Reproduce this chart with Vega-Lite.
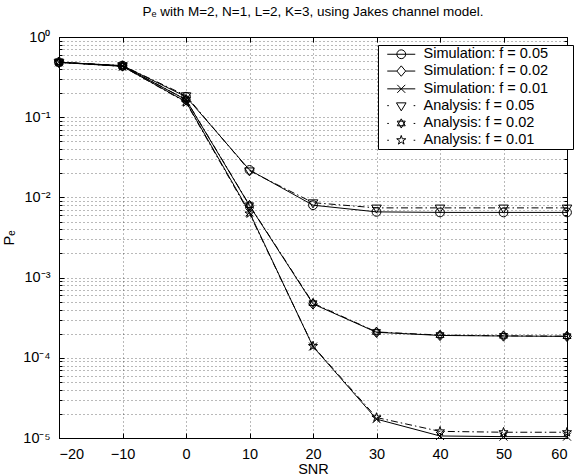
{
  "$schema": "https://vega.github.io/schema/vega-lite/v6.json",
  "width": 508,
  "height": 401,
  "autosize": {"type": "none"},
  "padding": {"left": 59, "top": 37, "right": 8, "bottom": 38},
  "background": "white",
  "title": {"text": "Pₑ with M=2, N=1, L=2, K=3, using Jakes channel model.", "font": "Liberation Sans", "fontSize": 13.5, "fontWeight": "normal", "color": "black", "offset": 11},
  "config": {
    "view": {"stroke": "black", "strokeWidth": 1},
    "font": "Liberation Sans"
  },
  "resolve": {"axis": {"x": "independent", "y": "independent"}, "scale": {"shape": "independent"}},
  "data": {"values": [
    {"snr": -20, "pe": 0.484, "method": "Simulation", "series": "Simulation: f = 0.05"},
    {"snr": -10, "pe": 0.44, "method": "Simulation", "series": "Simulation: f = 0.05"},
    {"snr": 0, "pe": 0.18, "method": "Simulation", "series": "Simulation: f = 0.05"},
    {"snr": 10, "pe": 0.022, "method": "Simulation", "series": "Simulation: f = 0.05"},
    {"snr": 20, "pe": 0.008, "method": "Simulation", "series": "Simulation: f = 0.05"},
    {"snr": 30, "pe": 0.0066, "method": "Simulation", "series": "Simulation: f = 0.05"},
    {"snr": 40, "pe": 0.0065, "method": "Simulation", "series": "Simulation: f = 0.05"},
    {"snr": 50, "pe": 0.0065, "method": "Simulation", "series": "Simulation: f = 0.05"},
    {"snr": 60, "pe": 0.0065, "method": "Simulation", "series": "Simulation: f = 0.05"},
    {"snr": -20, "pe": 0.484, "method": "Simulation", "series": "Simulation: f = 0.02"},
    {"snr": -10, "pe": 0.435, "method": "Simulation", "series": "Simulation: f = 0.02"},
    {"snr": 0, "pe": 0.165, "method": "Simulation", "series": "Simulation: f = 0.02"},
    {"snr": 10, "pe": 0.0079, "method": "Simulation", "series": "Simulation: f = 0.02"},
    {"snr": 20, "pe": 0.00047, "method": "Simulation", "series": "Simulation: f = 0.02"},
    {"snr": 30, "pe": 0.000208, "method": "Simulation", "series": "Simulation: f = 0.02"},
    {"snr": 40, "pe": 0.00019, "method": "Simulation", "series": "Simulation: f = 0.02"},
    {"snr": 50, "pe": 0.000187, "method": "Simulation", "series": "Simulation: f = 0.02"},
    {"snr": 60, "pe": 0.000185, "method": "Simulation", "series": "Simulation: f = 0.02"},
    {"snr": -20, "pe": 0.484, "method": "Simulation", "series": "Simulation: f = 0.01"},
    {"snr": -10, "pe": 0.43, "method": "Simulation", "series": "Simulation: f = 0.01"},
    {"snr": 0, "pe": 0.156, "method": "Simulation", "series": "Simulation: f = 0.01"},
    {"snr": 10, "pe": 0.0065, "method": "Simulation", "series": "Simulation: f = 0.01"},
    {"snr": 20, "pe": 0.000138, "method": "Simulation", "series": "Simulation: f = 0.01"},
    {"snr": 30, "pe": 0.0000172, "method": "Simulation", "series": "Simulation: f = 0.01"},
    {"snr": 40, "pe": 0.0000106, "method": "Simulation", "series": "Simulation: f = 0.01"},
    {"snr": 50, "pe": 0.0000104, "method": "Simulation", "series": "Simulation: f = 0.01"},
    {"snr": 60, "pe": 0.0000104, "method": "Simulation", "series": "Simulation: f = 0.01"},
    {"snr": -20, "pe": 0.484, "method": "Analysis", "series": "Analysis: f = 0.05"},
    {"snr": -10, "pe": 0.44, "method": "Analysis", "series": "Analysis: f = 0.05"},
    {"snr": 0, "pe": 0.186, "method": "Analysis", "series": "Analysis: f = 0.05"},
    {"snr": 10, "pe": 0.0215, "method": "Analysis", "series": "Analysis: f = 0.05"},
    {"snr": 20, "pe": 0.0086, "method": "Analysis", "series": "Analysis: f = 0.05"},
    {"snr": 30, "pe": 0.0074, "method": "Analysis", "series": "Analysis: f = 0.05"},
    {"snr": 40, "pe": 0.0074, "method": "Analysis", "series": "Analysis: f = 0.05"},
    {"snr": 50, "pe": 0.0074, "method": "Analysis", "series": "Analysis: f = 0.05"},
    {"snr": 60, "pe": 0.0074, "method": "Analysis", "series": "Analysis: f = 0.05"},
    {"snr": -20, "pe": 0.484, "method": "Analysis", "series": "Analysis: f = 0.02"},
    {"snr": -10, "pe": 0.435, "method": "Analysis", "series": "Analysis: f = 0.02"},
    {"snr": 0, "pe": 0.166, "method": "Analysis", "series": "Analysis: f = 0.02"},
    {"snr": 10, "pe": 0.008, "method": "Analysis", "series": "Analysis: f = 0.02"},
    {"snr": 20, "pe": 0.00048, "method": "Analysis", "series": "Analysis: f = 0.02"},
    {"snr": 30, "pe": 0.00021, "method": "Analysis", "series": "Analysis: f = 0.02"},
    {"snr": 40, "pe": 0.000192, "method": "Analysis", "series": "Analysis: f = 0.02"},
    {"snr": 50, "pe": 0.000188, "method": "Analysis", "series": "Analysis: f = 0.02"},
    {"snr": 60, "pe": 0.000186, "method": "Analysis", "series": "Analysis: f = 0.02"},
    {"snr": -20, "pe": 0.484, "method": "Analysis", "series": "Analysis: f = 0.01"},
    {"snr": -10, "pe": 0.43, "method": "Analysis", "series": "Analysis: f = 0.01"},
    {"snr": 0, "pe": 0.153, "method": "Analysis", "series": "Analysis: f = 0.01"},
    {"snr": 10, "pe": 0.0063, "method": "Analysis", "series": "Analysis: f = 0.01"},
    {"snr": 20, "pe": 0.00014, "method": "Analysis", "series": "Analysis: f = 0.01"},
    {"snr": 30, "pe": 0.000018, "method": "Analysis", "series": "Analysis: f = 0.01"},
    {"snr": 40, "pe": 0.0000121, "method": "Analysis", "series": "Analysis: f = 0.01"},
    {"snr": 50, "pe": 0.0000118, "method": "Analysis", "series": "Analysis: f = 0.01"},
    {"snr": 60, "pe": 0.0000118, "method": "Analysis", "series": "Analysis: f = 0.01"}
  ]},
  "encoding": {
    "x": {"field": "snr", "type": "quantitative",
      "scale": {"domain": [-20, 60], "nice": false, "zero": false},
      "axis": {"values": [-20, -10, 0, 10, 20, 30, 40, 50, 60], "title": "SNR",
        "grid": true, "gridDash": [1, 3], "gridColor": "#000", "gridOpacity": 0.55,
        "domainColor": "black", "tickColor": "black", "tickSize": -5,
        "labelFontSize": 14.5, "labelColor": "black", "labelPadding": 14,
        "titleFontSize": 14.5, "titleFontWeight": "normal", "titleColor": "black", "titlePadding": 2}},
    "y": {"field": "pe", "type": "quantitative",
      "scale": {"type": "log", "domain": [0.00001, 1], "nice": false},
      "axis": {"values": [0.00001, 0.00002, 0.00003, 0.00004, 0.00005, 0.00006, 0.00007, 0.00008, 0.00009,
          0.0001, 0.0002, 0.0003, 0.0004, 0.0005, 0.0006, 0.0007, 0.0008, 0.0009,
          0.001, 0.002, 0.003, 0.004, 0.005, 0.006, 0.007, 0.008, 0.009,
          0.01, 0.02, 0.03, 0.04, 0.05, 0.06, 0.07, 0.08, 0.09,
          0.1, 0.2, 0.3, 0.4, 0.5, 0.6, 0.7, 0.8, 0.9, 1],
        "labelExpr": "{'1':'10⁰','0.1':'10⁻¹','0.01':'10⁻²','0.001':'10⁻³','0.0001':'10⁻⁴','0.00001':'10⁻⁵'}[''+datum.value] || ''",
        "title": "Pₑ", "grid": true, "gridDash": [1, 3], "gridColor": "#000", "gridOpacity": 0.55,
        "domainColor": "black", "tickColor": "black",
        "tickSize": {"condition": {"test": "indexof([1,0.1,0.01,0.001,0.0001,0.00001], datum.value) >= 0", "value": -5}, "value": -3},
        "labelFontSize": 14.5, "labelColor": "black", "labelPadding": 14, "labelOverlap": false,
        "titleFontSize": 14.5, "titleFontWeight": "normal", "titleColor": "black", "titlePadding": 6}}
  },
  "layer": [
    {
      "transform": [{"filter": "datum.method === 'Simulation'"}],
      "mark": {"type": "line", "color": "black", "strokeWidth": 1},
      "encoding": {"detail": {"field": "series"}}
    },
    {
      "transform": [{"filter": "datum.method === 'Analysis'"}],
      "mark": {"type": "line", "color": "black", "strokeWidth": 1, "strokeDash": [7, 3, 1.5, 3]},
      "encoding": {
        "detail": {"field": "series"},
        "x": {"field": "snr", "type": "quantitative",
          "axis": {"orient": "top", "values": [-20, -10, 0, 10, 20, 30, 40, 50, 60], "labels": false, "grid": false, "title": null, "domain": false, "tickColor": "black", "tickSize": -5}},
        "y": {"field": "pe", "type": "quantitative",
          "axis": {"orient": "right", "values": [0.00001, 0.00002, 0.00003, 0.00004, 0.00005, 0.00006, 0.00007, 0.00008, 0.00009,
              0.0001, 0.0002, 0.0003, 0.0004, 0.0005, 0.0006, 0.0007, 0.0008, 0.0009,
              0.001, 0.002, 0.003, 0.004, 0.005, 0.006, 0.007, 0.008, 0.009,
              0.01, 0.02, 0.03, 0.04, 0.05, 0.06, 0.07, 0.08, 0.09,
              0.1, 0.2, 0.3, 0.4, 0.5, 0.6, 0.7, 0.8, 0.9, 1],
            "labels": false, "grid": false, "title": null, "domain": false, "tickColor": "black",
            "tickSize": {"condition": {"test": "indexof([1,0.1,0.01,0.001,0.0001,0.00001], datum.value) >= 0", "value": -5}, "value": -3}}}
      }
    },
    {
      "mark": {"type": "point", "filled": false, "stroke": "black", "strokeWidth": 1, "size": 64, "opacity": 1},
      "encoding": {
        "x": {"field": "snr", "type": "quantitative", "axis": null},
        "y": {"field": "pe", "type": "quantitative", "axis": null},
        "shape": {"field": "series", "type": "nominal", "legend": null,
          "scale": {"domain": ["Simulation: f = 0.05", "Simulation: f = 0.02", "Simulation: f = 0.01", "Analysis: f = 0.05", "Analysis: f = 0.02", "Analysis: f = 0.01"],
            "range": [
              "M1.1,0A1.1,1.1,0,1,1,-1.1,0A1.1,1.1,0,1,1,1.1,0Z",
              "M0,-1.3L1.1,0L0,1.3L-1.1,0Z",
              "M-1,-1L1,1M-1,1L1,-1",
              "M-1.2,-0.7L1.2,-0.7L0,1.3Z",
              "M0,-1.15L1,0.58L-1,0.58ZM0,1.15L1,-0.58L-1,-0.58Z",
              "M0,-1.2L0.27,-0.37L1.14,-0.37L0.44,0.14L0.7,0.97L0,0.46L-0.7,0.97L-0.44,0.14L-1.14,-0.37L-0.27,-0.37Z"
            ]}
        }
      }
    },
    {
      "transform": [{"filter": "false"}],
      "mark": {"type": "point", "filled": false, "stroke": "black", "strokeWidth": 1, "size": 64, "opacity": 1},
      "encoding": {
        "x": {"field": "snr", "type": "quantitative", "axis": null},
        "y": {"field": "pe", "type": "quantitative", "axis": null},
        "shape": {"field": "series", "type": "nominal",
          "scale": {"domain": ["Simulation: f = 0.05", "Simulation: f = 0.02", "Simulation: f = 0.01", "Analysis: f = 0.05", "Analysis: f = 0.02", "Analysis: f = 0.01"],
            "range": [
              "M-3.5,0L3.5,0M1.1,0A1.1,1.1,0,1,1,-1.1,0A1.1,1.1,0,1,1,1.1,0Z",
              "M-3.5,0L-1.1,0M1.1,0L3.5,0M0,-1.3L1.1,0L0,1.3L-1.1,0Z",
              "M-3.5,0L3.5,0M-1,-1L1,1M-1,1L1,-1",
              "M-3.5,0L-3.1,0M3.1,0L3.5,0M-1.2,-0.7L1.2,-0.7L0,1.3Z",
              "M-3.5,0L-3.1,0M3.1,0L3.5,0M0,-1.15L1,0.58L-1,0.58ZM0,1.15L1,-0.58L-1,-0.58Z",
              "M-3.5,0L-3.1,0M3.1,0L3.5,0M0,-1.2L0.27,-0.37L1.14,-0.37L0.44,0.14L0.7,0.97L0,0.46L-0.7,0.97L-0.44,0.14L-1.14,-0.37L-0.27,-0.37Z"
            ]},
          "legend": {"orient": "none", "legendX": 319, "legendY": 8, "title": null,
            "strokeColor": "black", "fillColor": "white", "padding": 2, "rowPadding": 1.8,
            "symbolOffset": 14, "labelOffset": 15, "labelFontSize": 14.5, "labelColor": "black",
            "symbolStrokeColor": "black", "symbolStrokeWidth": 1, "symbolSize": 64,
            "labelExpr": "datum.label + '\u2800\u2800'"}
        }
      }
    }
  ]
}
